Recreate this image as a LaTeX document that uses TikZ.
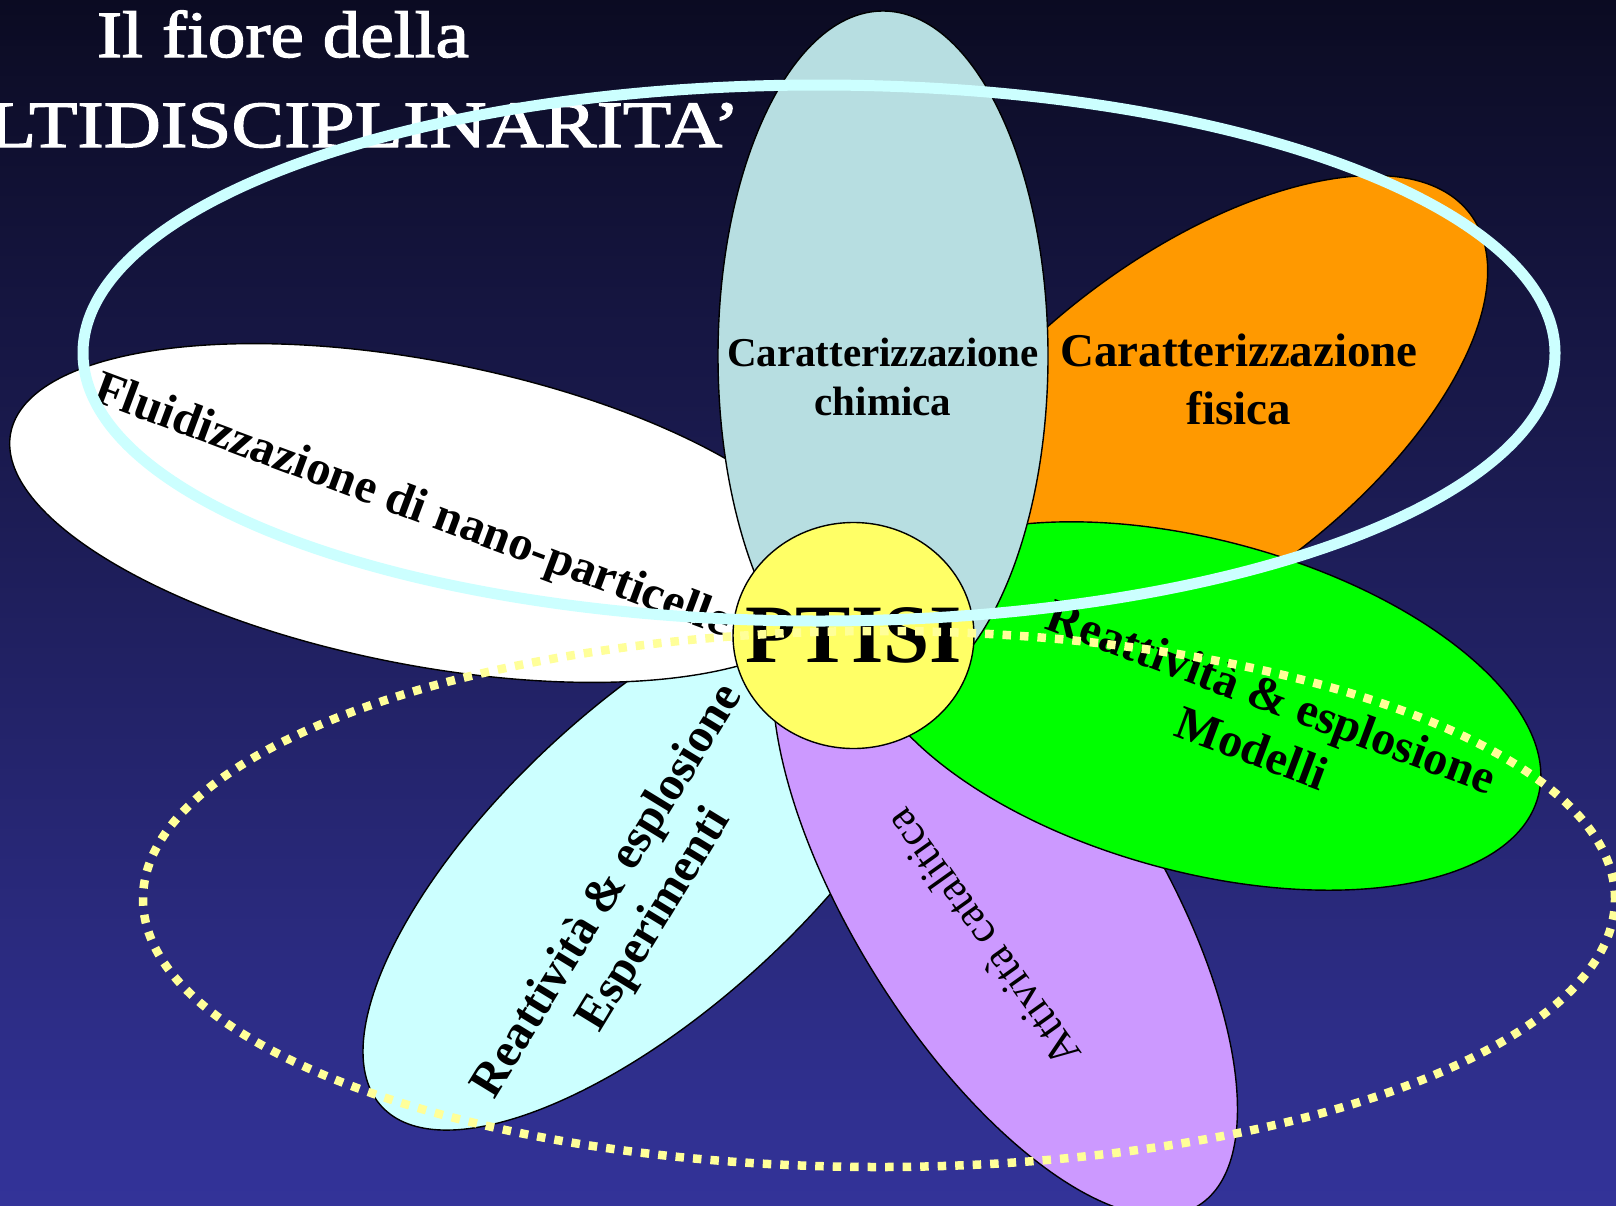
\documentclass[tikz,border=0pt]{standalone}
\usepackage{fontspec}
\setmainfont{Liberation Serif}
\newfontfamily\titlefont[FakeStretch=1.14,FakeBold=2]{Liberation Serif}
\newfontfamily\titlewidefont[FakeStretch=1.2,FakeBold=2]{Liberation Serif}
\usetikzlibrary{shapes.geometric}

\definecolor{bgtop}{HTML}{0B0B22}
\definecolor{bgbottom}{HTML}{333399}
\definecolor{petalblue}{HTML}{B7DEE1}
\definecolor{petalorange}{HTML}{FF9900}
\definecolor{petalgreen}{HTML}{00FF00}
\definecolor{petalcyan}{HTML}{CCFFFF}
\definecolor{petallilac}{HTML}{CC99FF}
\definecolor{coreyellow}{HTML}{FFFF66}
\definecolor{ringcyan}{HTML}{CCFFFF}
\definecolor{ringyellow}{HTML}{FFFF99}

\begin{document}
\begin{tikzpicture}[x=1pt,y=-1pt,
    petal/.style={ellipse,draw=black,line width=1.4pt,inner sep=0pt},
    ring/.style={ellipse,inner sep=0pt,minimum width=1472pt,minimum height=536pt},
    word/.style={text=black,align=center,inner sep=0pt},
    heading/.style={text=white,inner sep=0pt}]

\useasboundingbox (0,0) rectangle (1616,1205);
\clip (0,0) rectangle (1616,1205);
\shade[top color=bgtop,bottom color=bgbottom] (0,0) rectangle (1616,1205);

\node[heading,font=\titlefont\fontsize{66}{79}\selectfont,anchor=base] (title1) at (283,57) {Il fiore della};
\node[heading,font=\titlewidefont\fontsize{66}{79}\selectfont,anchor=base east] (title2) at (740,147) {MULTIDISCIPLINARITA’};

\node[petal,fill=petalcyan,minimum width=750pt,minimum height=304pt,rotate=42.5] (cyan) at (658,853) {};
\node[petal,fill=petallilac,minimum width=730pt,minimum height=304pt,rotate=-58] (lilac) at (1005,896) {};
\node[petal,fill=petalorange,minimum width=696pt,minimum height=332pt,rotate=36.9] (orange) at (1192,423) {};
\node[petal,fill=petalgreen,minimum width=700pt,minimum height=332pt,rotate=-15] (green) at (1200,706) {};
\node[petal,fill=white,minimum width=840pt,minimum height=304pt,rotate=-11] (white) at (423,513) {};
\node[petal,fill=petalblue,minimum width=330pt,minimum height=690pt] (blue) at (883,356) {};

\node[word,font=\bfseries\fontsize{41}{49}\selectfont] (chimica) at (883,377) {Caratterizzazione\\chimica};
\node[word,font=\bfseries\fontsize{47}{58}\selectfont] (fisica) at (1239,379) {Caratterizzazione\\fisica};
\node[word,font=\bfseries\fontsize{48.5}{56}\selectfont,anchor=base west,rotate=-20.5] (fluid) at (91,400) {Fluidizzazione di nano-particelle};
\node[word,font=\bfseries\fontsize{48}{55}\selectfont,rotate=-20.5] (modelli) at (1262,722) {Reattività \& esplosione\\Modelli};
\node[word,font=\bfseries\fontsize{48}{55}\selectfont,rotate=58.5] (esperimenti) at (632,906) {Reattività \& esplosione\\Esperimenti};
\node[word,font=\fontsize{44}{54}\selectfont,rotate=125.5] (catalisi) at (982,938) {Attività catalitica};

\node[petal,fill=coreyellow,minimum width=241pt,minimum height=226pt] (core) at (853.5,635.5) {};
\node[word,font=\bfseries\fontsize{83}{90}\selectfont] (ptisi) at (core.center) {PTISI};

\node[ring,draw=ringcyan,line width=11pt] (chemring) at (819,353) {};
\node[ring,draw=ringyellow,line width=8.5pt,dash pattern=on 8.5pt off 9pt] (reactring) at (879,899) {};
\end{tikzpicture}
\end{document}
